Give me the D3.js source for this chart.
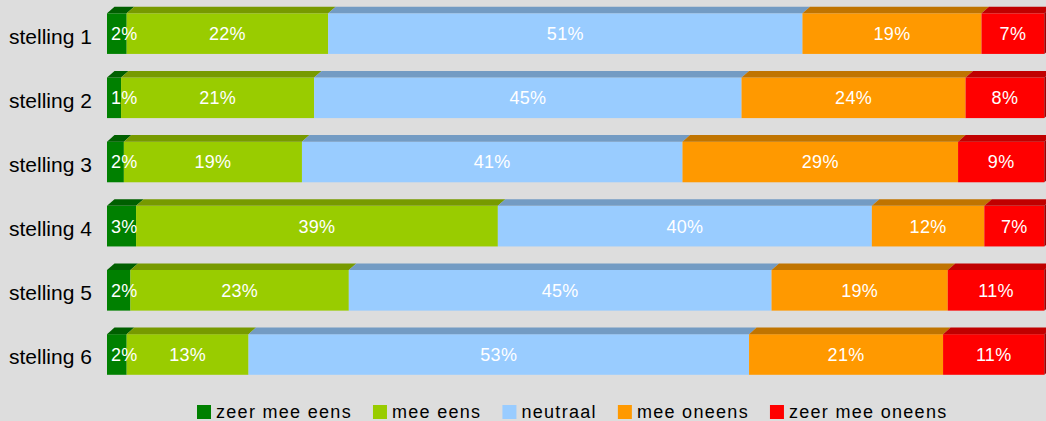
<!DOCTYPE html>
<html>
<head>
<meta charset="utf-8">
<script src="https://cdn.jsdelivr.net/npm/d3@7"></script>
<style>
  html, body { margin: 0; padding: 0; background: #dddddd; }
  svg { display: block; font-family: "Liberation Sans", Arial, sans-serif; }
</style>
</head>
<body>
<div id="chart"></div>
<script>
// categories (rows) and answer series
const stellingen = ["stelling 1", "stelling 2", "stelling 3", "stelling 4", "stelling 5", "stelling 6"];
const antwoorden = ["zeer mee eens", "mee eens", "neutraal", "mee oneens", "zeer mee oneens"];

// shares per row (percent)
const zeerMeeEens   = [2.1, 1.5, 1.8, 3.1, 2.5, 2.1];
const meeEens       = [21.5, 20.6, 19.0, 38.6, 23.3, 13.0];
const neutraal      = [50.6, 45.6, 40.6, 39.9, 45.1, 53.4];
const meeOneens     = [19.1, 23.9, 29.4, 12.0, 18.8, 20.7];
const zeerMeeOneens = [6.7, 8.4, 9.2, 6.4, 10.3, 10.8];

// data labels as printed on the bars
const labels = [
  ["2%", "22%", "51%", "19%", "7%"],
  ["1%", "21%", "45%", "24%", "8%"],
  ["2%", "19%", "41%", "29%", "9%"],
  ["3%", "39%", "40%", "12%", "7%"],
  ["2%", "23%", "45%", "19%", "11%"],
  ["2%", "13%", "53%", "21%", "11%"]
];

const frontColors = ["#008000", "#99cc00", "#99ccff", "#ff9900", "#ff0000"];
const topColors   = ["#005f00", "#779a00", "#739bc3", "#c07400", "#c00000"];
const sideColors  = ["#004c00", "#5f7a00", "#5c7b9c", "#995c00", "#a00000"];

const width = 1046, height = 421;
const dx = 7.5, dy = 6.6;

const rows = stellingen.map(function(name, i) {
  return {
    name: name,
    "zeer mee eens": zeerMeeEens[i],
    "mee eens": meeEens[i],
    "neutraal": neutraal[i],
    "mee oneens": meeOneens[i],
    "zeer mee oneens": zeerMeeOneens[i],
    idx: i
  };
});

const series = d3.stack()
  .keys(antwoorden)
  .offset(d3.stackOffsetExpand)(rows);

const x = d3.scaleLinear().domain([0, 1]).range([107, 1044.3]);
const y = d3.scaleBand()
  .domain(stellingen)
  .range([13.3, 374.8])
  .paddingInner(0.367)
  .paddingOuter(0);

const svg = d3.select("#chart").append("svg")
  .attr("width", width)
  .attr("height", height);

svg.append("rect")
  .attr("width", width).attr("height", height)
  .attr("fill", "#dddddd");

const groups = svg.selectAll("g.serie")
  .data(series).enter()
  .append("g")
    .attr("class", "serie");

// front faces
groups.selectAll("rect")
  .data(function(s) { return s; }).enter()
  .append("rect")
    .attr("x", function(d) { return x(d[0]); })
    .attr("y", function(d) { return y(d.data.name); })
    .attr("width", function(d) { return x(d[1]) - x(d[0]); })
    .attr("height", y.bandwidth())
    .attr("fill", function(d) { return frontColors[d3.select(this.parentNode).datum().index]; });

// top faces
groups.selectAll("path.top")
  .data(function(s) { return s; }).enter()
  .append("path")
    .attr("class", "top")
    .attr("d", function(d) {
      const x0 = x(d[0]), x1 = x(d[1]), y0 = y(d.data.name);
      return `M${x0},${y0}L${x0 + dx},${y0 - dy}L${x1 + dx},${y0 - dy}L${x1},${y0}Z`;
    })
    .attr("fill", function(d) { return topColors[d3.select(this.parentNode).datum().index]; });

// right side of the last segment
const last = series[series.length - 1];
svg.append("g").selectAll("path")
  .data(last).enter()
  .append("path")
    .attr("d", function(d) {
      const x1 = x(d[1]), y0 = y(d.data.name), h = y.bandwidth();
      return `M${x1},${y0}L${x1 + dx},${y0 - dy}L${x1 + dx},${y0 + h - dy}L${x1},${y0 + h}Z`;
    })
    .attr("fill", sideColors[4]);

// value labels, drawn above all bars
const labelGroups = svg.selectAll("g.labels")
  .data(series).enter()
  .append("g")
    .attr("class", "labels");

labelGroups.selectAll("text")
  .data(function(s) { return s.map(function(d) { return { d: d, k: s.index }; }); }).enter()
  .append("text")
    .attr("y", function(o) { return y(o.d.data.name) + y.bandwidth() / 2; })
    .attr("dy", "0.36em")
    .attr("fill", "#ffffff")
    .style("font-size", "18px")
    .style("letter-spacing", "0.3px")
    .text(function(o) { return labels[o.d.data.idx][o.k]; })
    .each(function(o) {
      const x0 = x(o.d[0]), x1 = x(o.d[1]);
      const w = this.getComputedTextLength();
      const t = d3.select(this);
      if (x1 - x0 < w + 8) {
        t.attr("x", x0 + 4).attr("text-anchor", "start");
      } else {
        t.attr("x", (x0 + x1) / 2).attr("text-anchor", "middle");
      }
    });

// category labels
svg.append("g").selectAll("text")
  .data(stellingen).enter()
  .append("text")
    .attr("x", 9)
    .attr("y", function(d) { return y(d) + y.bandwidth() / 2 + 10; })
    .attr("fill", "#000000")
    .style("font-size", "21px")
    .text(function(d) { return d; });

// legend
const legend = svg.append("g").attr("class", "legend");
const legendItems = legend.selectAll("g")
  .data(antwoorden).enter()
  .append("g");

legendItems.append("rect")
  .attr("width", 14).attr("height", 14)
  .attr("y", 405)
  .attr("fill", function(d, i) { return frontColors[i]; });

legendItems.append("text")
  .attr("x", 19)
  .attr("y", 412)
  .attr("dy", "0.36em")
  .style("font-size", "18px")
  .style("letter-spacing", "1.3px")
  .attr("fill", "#000000")
  .text(function(d) { return d; });

let pos = 0;
const offsets = [];
legendItems.each(function() {
  offsets.push(pos);
  const w = d3.select(this).select("text").node().getComputedTextLength();
  pos += 19 + w + 21;
});
const start = 197;
legendItems.attr("transform", function(d, i) { return `translate(${start + offsets[i]},0)`; });
</script>
</body>
</html>
